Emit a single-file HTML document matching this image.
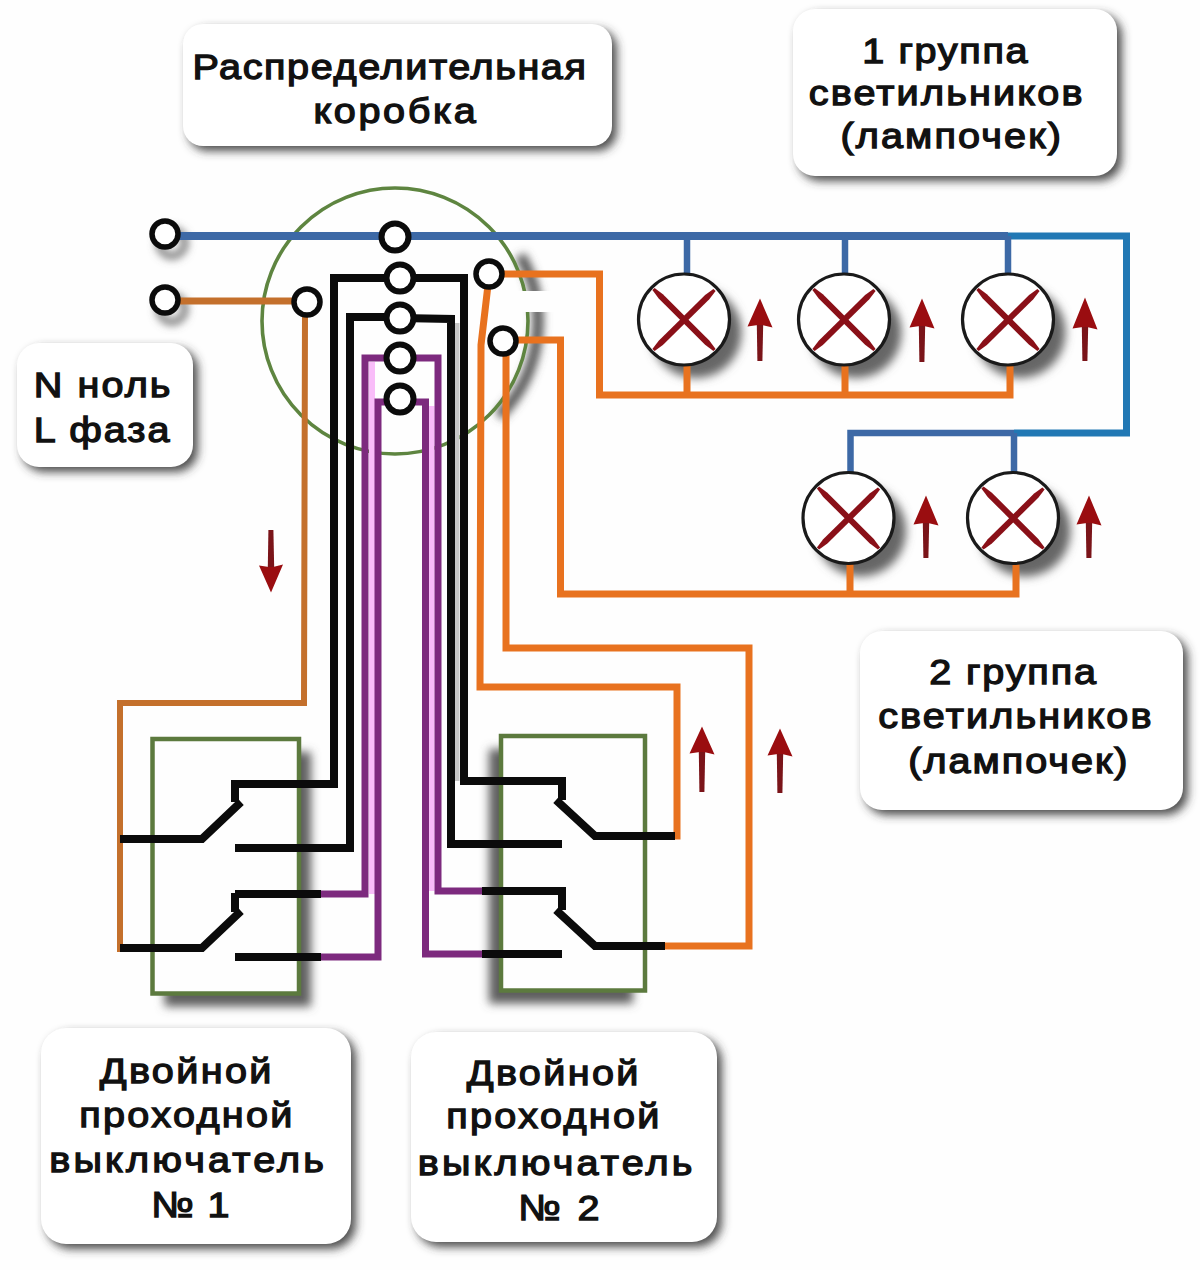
<!DOCTYPE html>
<html><head><meta charset="utf-8"><style>html,body{margin:0;padding:0;background:#fefefe;width:1200px;height:1270px;overflow:hidden}svg{display:block}</style></head>
<body><svg width="1200" height="1270" viewBox="0 0 1200 1270">
<defs>
<filter id="bsh" x="-20%" y="-20%" width="140%" height="140%"><feGaussianBlur stdDeviation="5"/></filter>
<filter id="sh" x="-50%" y="-50%" width="200%" height="200%"><feGaussianBlur stdDeviation="4"/></filter>
<filter id="lsh" x="-50%" y="-50%" width="200%" height="200%"><feGaussianBlur stdDeviation="5"/></filter>
<filter id="gsh" x="-50%" y="-50%" width="200%" height="200%"><feGaussianBlur stdDeviation="4"/></filter>
</defs>
<rect width="1200" height="1270" fill="#fefefe"/>
<g font-family="Liberation Sans, sans-serif" font-weight="normal" fill="#111" stroke="#111" stroke-width="1.3">
<rect x="183" y="24" width="429" height="122" rx="20" stroke="none" fill="#3a3a3a" fill-opacity="0.9" filter="url(#bsh)" transform="translate(5,5)"/>
<rect x="183" y="24" width="429" height="122" rx="20" stroke="none" fill="#fff"/>
<text transform="translate(192.39999999999998,79) scale(1.1,1)" x="0" y="0" font-size="36" textLength="357.73" lengthAdjust="spacing">Распределительная</text>
<text transform="translate(313.4,123) scale(1.1,1)" x="0" y="0" font-size="36" textLength="147.73" lengthAdjust="spacing">коробка</text>
<rect x="793" y="9" width="324" height="167" rx="22" stroke="none" fill="#3a3a3a" fill-opacity="0.9" filter="url(#bsh)" transform="translate(5,5)"/>
<rect x="793" y="9" width="324" height="167" rx="22" stroke="none" fill="#fff"/>
<text transform="translate(862.2,63) scale(1.1,1)" x="0" y="0" font-size="36" textLength="150.27" lengthAdjust="spacing">1 группа</text>
<text transform="translate(808.7,105) scale(1.1,1)" x="0" y="0" font-size="36" textLength="248.91" lengthAdjust="spacing">светильников</text>
<text transform="translate(840.4000000000001,148) scale(1.1,1)" x="0" y="0" font-size="36" textLength="200.45" lengthAdjust="spacing">(лампочек)</text>
<rect x="17" y="343" width="176" height="124" rx="22" stroke="none" fill="#3a3a3a" fill-opacity="0.9" filter="url(#bsh)" transform="translate(5,5)"/>
<rect x="17" y="343" width="176" height="124" rx="22" stroke="none" fill="#fff"/>
<text transform="translate(33.7,397) scale(1.1,1)" x="0" y="0" font-size="36" textLength="124.36" lengthAdjust="spacing">N ноль</text>
<text transform="translate(33.7,442) scale(1.1,1)" x="0" y="0" font-size="36" textLength="123.45" lengthAdjust="spacing">L фаза</text>
<rect x="860" y="631" width="323" height="179" rx="22" stroke="none" fill="#3a3a3a" fill-opacity="0.9" filter="url(#bsh)" transform="translate(5,5)"/>
<rect x="860" y="631" width="323" height="179" rx="22" stroke="none" fill="#fff"/>
<text transform="translate(929.2,684) scale(1.1,1)" x="0" y="0" font-size="36" textLength="151.64" lengthAdjust="spacing">2 группа</text>
<text transform="translate(878.2,728) scale(1.1,1)" x="0" y="0" font-size="36" textLength="248.45" lengthAdjust="spacing">светильников</text>
<text transform="translate(908.2,772.5) scale(1.1,1)" x="0" y="0" font-size="36" textLength="199.36" lengthAdjust="spacing">(лампочек)</text>
<rect x="41" y="1028" width="310" height="216" rx="25" stroke="none" fill="#3a3a3a" fill-opacity="0.9" filter="url(#bsh)" transform="translate(5,5)"/>
<rect x="41" y="1028" width="310" height="216" rx="25" stroke="none" fill="#fff"/>
<text transform="translate(99.7,1083) scale(1.1,1)" x="0" y="0" font-size="36" textLength="156.18" lengthAdjust="spacing">Двойной</text>
<text transform="translate(79.2,1127) scale(1.1,1)" x="0" y="0" font-size="36" textLength="193.91" lengthAdjust="spacing">проходной</text>
<text transform="translate(49.2,1172) scale(1.1,1)" x="0" y="0" font-size="36" textLength="249.82" lengthAdjust="spacing">выключатель</text>
<text transform="translate(151.2,1217) scale(1.1,1)" x="0" y="0" font-size="36" textLength="71.18" lengthAdjust="spacing">№ 1</text>
<rect x="411" y="1032" width="306" height="210" rx="25" stroke="none" fill="#3a3a3a" fill-opacity="0.9" filter="url(#bsh)" transform="translate(5,5)"/>
<rect x="411" y="1032" width="306" height="210" rx="25" stroke="none" fill="#fff"/>
<text transform="translate(466.7,1085) scale(1.1,1)" x="0" y="0" font-size="36" textLength="156.18" lengthAdjust="spacing">Двойной</text>
<text transform="translate(446.2,1128) scale(1.1,1)" x="0" y="0" font-size="36" textLength="193.91" lengthAdjust="spacing">проходной</text>
<text transform="translate(417.7,1175) scale(1.1,1)" x="0" y="0" font-size="36" textLength="249.82" lengthAdjust="spacing">выключатель</text>
<text transform="translate(518.2,1220) scale(1.1,1)" x="0" y="0" font-size="36" textLength="73.91" lengthAdjust="spacing">№ 2</text>
</g>
<path d="M510.2,253.5 A133,133 0 0 1 489.0,414.0" fill="none" stroke="#555" stroke-width="11" filter="url(#gsh)" transform="translate(10,2)"/>
<circle cx="395" cy="321" r="133" fill="none" stroke="#5e8540" stroke-width="3.6"/>
<rect x="518" y="291" width="40" height="21" fill="#fefefe"/>
<filter id="ssh" x="-30%" y="-30%" width="160%" height="160%"><feGaussianBlur stdDeviation="5"/></filter>
<rect x="164.5" y="752" width="146.5" height="254.5" fill="#5e5e5e" filter="url(#ssh)"/>
<rect x="152.5" y="739" width="146.5" height="254.5" fill="#fefefe" stroke="#5c7a3e" stroke-width="4.5"/>
<rect x="489" y="749" width="144" height="254.5" fill="#5e5e5e" filter="url(#ssh)"/>
<rect x="501" y="736" width="144" height="254.5" fill="#fefefe" stroke="#5c7a3e" stroke-width="4.5"/>
<circle cx="696" cy="332.5" r="45.5" fill="#666" filter="url(#lsh)"/>
<circle cx="856" cy="332.5" r="45.5" fill="#666" filter="url(#lsh)"/>
<circle cx="1020" cy="332.5" r="45.5" fill="#666" filter="url(#lsh)"/>
<circle cx="860.5" cy="531" r="45.5" fill="#666" filter="url(#lsh)"/>
<circle cx="1025" cy="531" r="45.5" fill="#666" filter="url(#lsh)"/>
<circle cx="172" cy="243" r="13" fill="none" stroke="#666" stroke-width="6" filter="url(#sh)"/>
<circle cx="172" cy="309" r="13" fill="none" stroke="#666" stroke-width="6" filter="url(#sh)"/>
<path d="M165,236 L1008,236" fill="none" stroke="#3d69a6" stroke-width="8" stroke-linejoin="miter" stroke-linecap="butt" />
<path d="M1008,236 L1126.5,236 L1126.5,433 L1014,433" fill="none" stroke="#2178b4" stroke-width="7" stroke-linejoin="miter" stroke-linecap="butt" />
<path d="M1014,433 L850.5,433 L850.5,474" fill="none" stroke="#3d69a6" stroke-width="6.5" stroke-linejoin="miter" stroke-linecap="butt" />
<path d="M1014,433 L1014,472" fill="none" stroke="#3d69a6" stroke-width="6.5" stroke-linejoin="miter" stroke-linecap="butt" />
<path d="M687,236 L687,276" fill="none" stroke="#3d69a6" stroke-width="6.5" stroke-linejoin="miter" stroke-linecap="butt" />
<path d="M845,236 L845,276" fill="none" stroke="#3d69a6" stroke-width="6.5" stroke-linejoin="miter" stroke-linecap="butt" />
<path d="M1008,236 L1008,276" fill="none" stroke="#3d69a6" stroke-width="6.5" stroke-linejoin="miter" stroke-linecap="butt" />
<path d="M488,274 L599.5,274 L599.5,395 L1010,395 L1010,362" fill="none" stroke="#e8721f" stroke-width="7" stroke-linejoin="miter" stroke-linecap="butt" />
<path d="M687,362 L687,395" fill="none" stroke="#e8721f" stroke-width="7" stroke-linejoin="miter" stroke-linecap="butt" />
<path d="M845,362 L845,395" fill="none" stroke="#e8721f" stroke-width="7" stroke-linejoin="miter" stroke-linecap="butt" />
<path d="M503,340 L560.5,340 L560.5,594 L1016,594 L1016,562" fill="none" stroke="#e8721f" stroke-width="7" stroke-linejoin="miter" stroke-linecap="butt" />
<path d="M850,562 L850,594" fill="none" stroke="#e8721f" stroke-width="7" stroke-linejoin="miter" stroke-linecap="butt" />
<path d="M488,285 L481,345 L480,687 L677,687 L677,836 L595,836" fill="none" stroke="#e8721f" stroke-width="7" stroke-linejoin="miter" stroke-linecap="butt" />
<path d="M506,350 L506,648 L749,648 L749,946 L665,946" fill="none" stroke="#e8721f" stroke-width="7" stroke-linejoin="miter" stroke-linecap="butt" />
<path d="M165,301 L307,301" fill="none" stroke="#c4702c" stroke-width="7" stroke-linejoin="miter" stroke-linecap="butt" />
<path d="M305,310 L304,703 L120,703 L120,952" fill="none" stroke="#c4702c" stroke-width="6" stroke-linejoin="miter" stroke-linecap="butt" />
<path d="M400,278 L334,278 L334,784 L235,784 L235,802" fill="none" stroke="#0b0b0b" stroke-width="8" stroke-linejoin="miter" stroke-linecap="butt" />
<path d="M400,278 L464,278 L464,781 L562,781 L562,800" fill="none" stroke="#0b0b0b" stroke-width="8" stroke-linejoin="miter" stroke-linecap="butt" />
<path d="M400,317 L350,317 L350,848 L235,848" fill="none" stroke="#0b0b0b" stroke-width="8" stroke-linejoin="miter" stroke-linecap="butt" />
<path d="M400,318 L451,319 L451,844 L562,844" fill="none" stroke="#0b0b0b" stroke-width="8" stroke-linejoin="miter" stroke-linecap="butt" />
<path d="M120,839 L202,839 L241,802" fill="none" stroke="#0b0b0b" stroke-width="8" stroke-linejoin="miter" stroke-linecap="butt" />
<path d="M120,948 L202,948 L241,911" fill="none" stroke="#0b0b0b" stroke-width="8" stroke-linejoin="miter" stroke-linecap="butt" />
<path d="M235,894 L321,894" fill="none" stroke="#0b0b0b" stroke-width="8" stroke-linejoin="miter" stroke-linecap="butt" />
<path d="M235,957 L321,957" fill="none" stroke="#0b0b0b" stroke-width="8" stroke-linejoin="miter" stroke-linecap="butt" />
<path d="M235,893 L235,912" fill="none" stroke="#0b0b0b" stroke-width="8" stroke-linejoin="miter" stroke-linecap="butt" />
<path d="M675,836 L595,836 L556,800" fill="none" stroke="#0b0b0b" stroke-width="8" stroke-linejoin="miter" stroke-linecap="butt" />
<path d="M665,946 L595,946 L556,910" fill="none" stroke="#0b0b0b" stroke-width="8" stroke-linejoin="miter" stroke-linecap="butt" />
<path d="M482,891 L562,891 L562,910" fill="none" stroke="#0b0b0b" stroke-width="8" stroke-linejoin="miter" stroke-linecap="butt" />
<path d="M482,954 L562,954" fill="none" stroke="#0b0b0b" stroke-width="8" stroke-linejoin="miter" stroke-linecap="butt" />
<rect x="369" y="362" width="6" height="532" fill="#f9bdf9"/>
<rect x="455" y="323" width="4.5" height="458" fill="#c6c6c6"/>
<rect x="428.5" y="406" width="6" height="485" fill="#f9bdf9"/>
<path d="M400,358 L365,358 L365,894 L321,894" fill="none" stroke="#7d2a7e" stroke-width="7" stroke-linejoin="miter" stroke-linecap="butt" />
<path d="M400,358 L438,358 L438,891 L482,891" fill="none" stroke="#7d2a7e" stroke-width="7" stroke-linejoin="miter" stroke-linecap="butt" />
<path d="M400,402 L378,402 L378,957 L321,957" fill="none" stroke="#7d2a7e" stroke-width="7" stroke-linejoin="miter" stroke-linecap="butt" />
<path d="M400,402 L425.5,402 L425.5,954 L482,954" fill="none" stroke="#7d2a7e" stroke-width="7" stroke-linejoin="miter" stroke-linecap="butt" />
<circle cx="165" cy="234" r="13" fill="#fff" stroke="#0b0b0b" stroke-width="5.5"/>
<circle cx="165" cy="300" r="13" fill="#fff" stroke="#0b0b0b" stroke-width="5.5"/>
<circle cx="307" cy="302" r="13" fill="#fff" stroke="#0b0b0b" stroke-width="5.5"/>
<circle cx="395" cy="237" r="13.5" fill="#fff" stroke="#0b0b0b" stroke-width="6"/>
<circle cx="400" cy="278" r="13.5" fill="#fff" stroke="#0b0b0b" stroke-width="6"/>
<circle cx="400" cy="318" r="13.5" fill="#fff" stroke="#0b0b0b" stroke-width="6"/>
<circle cx="400" cy="358" r="13.5" fill="#fff" stroke="#0b0b0b" stroke-width="6"/>
<circle cx="400" cy="399" r="13.5" fill="#fff" stroke="#0b0b0b" stroke-width="6"/>
<circle cx="489" cy="274" r="13" fill="#fff" stroke="#0b0b0b" stroke-width="5.5"/>
<circle cx="503" cy="341" r="13" fill="#fff" stroke="#0b0b0b" stroke-width="5.5"/>
<circle cx="684" cy="319.5" r="45.5" fill="#fff" stroke="#1a1a1a" stroke-width="3.2"/>
<path d="M652.4,290.1 L658.7,298.4 L705.1,344.8 L713.4,351.1 L715.6,348.9 L709.3,340.6 L662.9,294.2 L654.6,287.9Z" fill="#8a1018"/>
<path d="M713.4,288.9 L705.1,295.1 L658.7,340.7 L652.4,348.9 L654.6,351.1 L662.9,344.9 L709.3,299.3 L715.6,291.1Z" fill="#8a1018"/>
<circle cx="844" cy="319.5" r="45.5" fill="#fff" stroke="#1a1a1a" stroke-width="3.2"/>
<path d="M812.4,290.1 L818.7,298.4 L865.1,344.8 L873.4,351.1 L875.6,348.9 L869.3,340.6 L822.9,294.2 L814.6,287.9Z" fill="#8a1018"/>
<path d="M873.4,288.9 L865.1,295.1 L818.7,340.7 L812.4,348.9 L814.6,351.1 L822.9,344.9 L869.3,299.3 L875.6,291.1Z" fill="#8a1018"/>
<circle cx="1008" cy="319.5" r="45.5" fill="#fff" stroke="#1a1a1a" stroke-width="3.2"/>
<path d="M976.4,290.1 L982.7,298.4 L1029.1,344.8 L1037.4,351.1 L1039.6,348.9 L1033.3,340.6 L986.9,294.2 L978.6,287.9Z" fill="#8a1018"/>
<path d="M1037.4,288.9 L1029.1,295.1 L982.7,340.7 L976.4,348.9 L978.6,351.1 L986.9,344.9 L1033.3,299.3 L1039.6,291.1Z" fill="#8a1018"/>
<circle cx="848.5" cy="518" r="45.5" fill="#fff" stroke="#1a1a1a" stroke-width="3.2"/>
<path d="M816.9,488.6 L823.2,496.9 L869.6,543.3 L877.9,549.6 L880.1,547.4 L873.8,539.1 L827.4,492.7 L819.1,486.4Z" fill="#8a1018"/>
<path d="M877.9,487.4 L869.6,493.6 L823.2,539.2 L816.9,547.4 L819.1,549.6 L827.4,543.4 L873.8,497.8 L880.1,489.6Z" fill="#8a1018"/>
<circle cx="1013" cy="518" r="45.5" fill="#fff" stroke="#1a1a1a" stroke-width="3.2"/>
<path d="M981.4,488.6 L987.7,496.9 L1034.1,543.3 L1042.4,549.6 L1044.6,547.4 L1038.3,539.1 L991.9,492.7 L983.6,486.4Z" fill="#8a1018"/>
<path d="M1042.4,487.4 L1034.1,493.6 L987.7,539.2 L981.4,547.4 L983.6,549.6 L991.9,543.4 L1038.3,497.8 L1044.6,489.6Z" fill="#8a1018"/>
<path d="M756.8,324 L763.2,324 L762.4,361 L757.4,361 Z" fill="#7a1419"/>
<path d="M760,298.5 L772.5,327.5 L762,325 L758,325 L747.5,326.5 Z" fill="#9a0d10"/>
<path d="M918.8,325 L925.2,325 L924.4,362 L919.4,362 Z" fill="#7a1419"/>
<path d="M922,298.5 L934.5,328.5 L924,326 L920,326 L909.5,327.5 Z" fill="#9a0d10"/>
<path d="M1081.8,326 L1088.2,326 L1087.4,361 L1082.4,361 Z" fill="#7a1419"/>
<path d="M1085,297.5 L1097.5,329.5 L1087,327 L1083,327 L1072.5,328.5 Z" fill="#9a0d10"/>
<path d="M922.8,522 L929.2,522 L928.4,558 L923.4,558 Z" fill="#7a1419"/>
<path d="M926,495.5 L938.5,525.5 L928,523 L924,523 L913.5,524.5 Z" fill="#9a0d10"/>
<path d="M1085.8,522 L1092.2,522 L1091.4,558 L1086.4,558 Z" fill="#7a1419"/>
<path d="M1089,495.5 L1101.5,525.5 L1091,523 L1087,523 L1076.5,524.5 Z" fill="#9a0d10"/>
<path d="M698.8,751 L705.2,751 L704.4,792 L699.4,792 Z" fill="#7a1419"/>
<path d="M702,726.5 L714.5,754.5 L704,752 L700,752 L689.5,753.5 Z" fill="#9a0d10"/>
<path d="M776.8,753 L783.2,753 L782.4,793 L777.4,793 Z" fill="#7a1419"/>
<path d="M780,728.5 L792.5,756.5 L782,754 L778,754 L767.5,755.5 Z" fill="#9a0d10"/>
<path d="M267.8,568 L274.2,568 L273.4,530 L268.4,530 Z" fill="#7a1419"/>
<path d="M271,592.5 L283,564.5 L273,567 L269,567 L259,565.5 Z" fill="#9a0d10"/>
</svg></body></html>
